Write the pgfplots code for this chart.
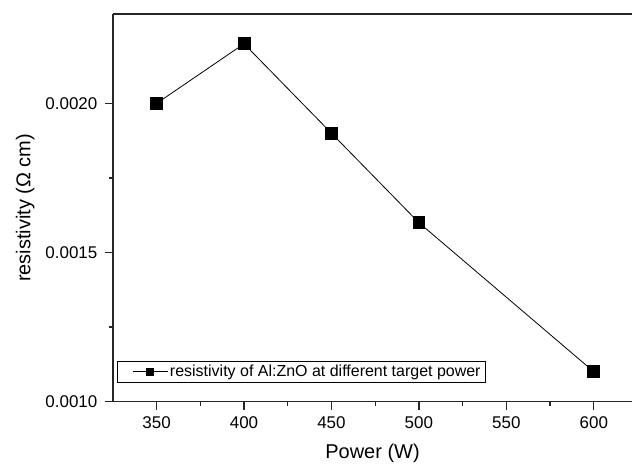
\documentclass[border=0pt]{standalone}
\usepackage{fontspec}
\setmainfont{Liberation Sans}
\usepackage{pgfplots}
\pgfplotsset{compat=1.18}
\begin{document}
\begin{tikzpicture}
\begin{axis}[
  scale only axis,
  width=520pt, height=388pt,
  xmin=325, xmax=622,
  ymin=0.0010, ymax=0.0023,
  axis x line=box,
  axis y line=left,
  axis line style={-, line width=1.5pt, color=black!85},
  xtick={350,400,450,500,550,600},
  ytick={0.0010,0.0015,0.0020},
  minor x tick num=1,
  minor y tick num=1,
  xtick pos=bottom, ytick pos=left,
  tick align=outside,
  major tick length=8pt,
  minor tick length=4pt,
  every tick/.style={line width=1.2pt, color=black!85},
  scaled y ticks=false,
  /pgf/number format/assume math mode=true,
  yticklabel style={xshift=-4pt, /pgf/number format/fixed, /pgf/number format/fixed zerofill, /pgf/number format/precision=4},
  ticklabel style={font=\fontsize{17}{20}\selectfont},
  xticklabel style={yshift=-4pt},
  xlabel={Power (W)},
  ylabel={resistivity (Ω cm)},
  label style={font=\fontsize{20}{24}\selectfont},
  xlabel style={yshift=-8pt},
  ylabel style={yshift=4pt},
  legend style={at={(4/520,19/388)}, anchor=south west, draw=black, line width=0.8pt,
    font=\fontsize{16}{19}\selectfont, inner xsep=3pt, inner ysep=2pt},
  legend image code/.code={%
    \path (0pt,0pt);
    \draw[mark repeat=2,mark phase=2,#1] plot coordinates {(12pt,0pt) (29.5pt,0pt) (47pt,0pt)};},
  legend image post style={mark size=3.5pt},
  legend cell align=left,
  clip=false,
]
\addplot[black, line width=0.8pt, mark=square*, mark size=6pt, mark options={solid}]
  coordinates {(350,0.0020) (400,0.0022) (450,0.0019) (500,0.0016) (600,0.0011)};
\addlegendentry{resistivity of Al:ZnO at different target power}
\end{axis}
\path[use as bounding box] (-113pt,-59pt) rectangle (520pt,402pt);
\end{tikzpicture}
\end{document}
